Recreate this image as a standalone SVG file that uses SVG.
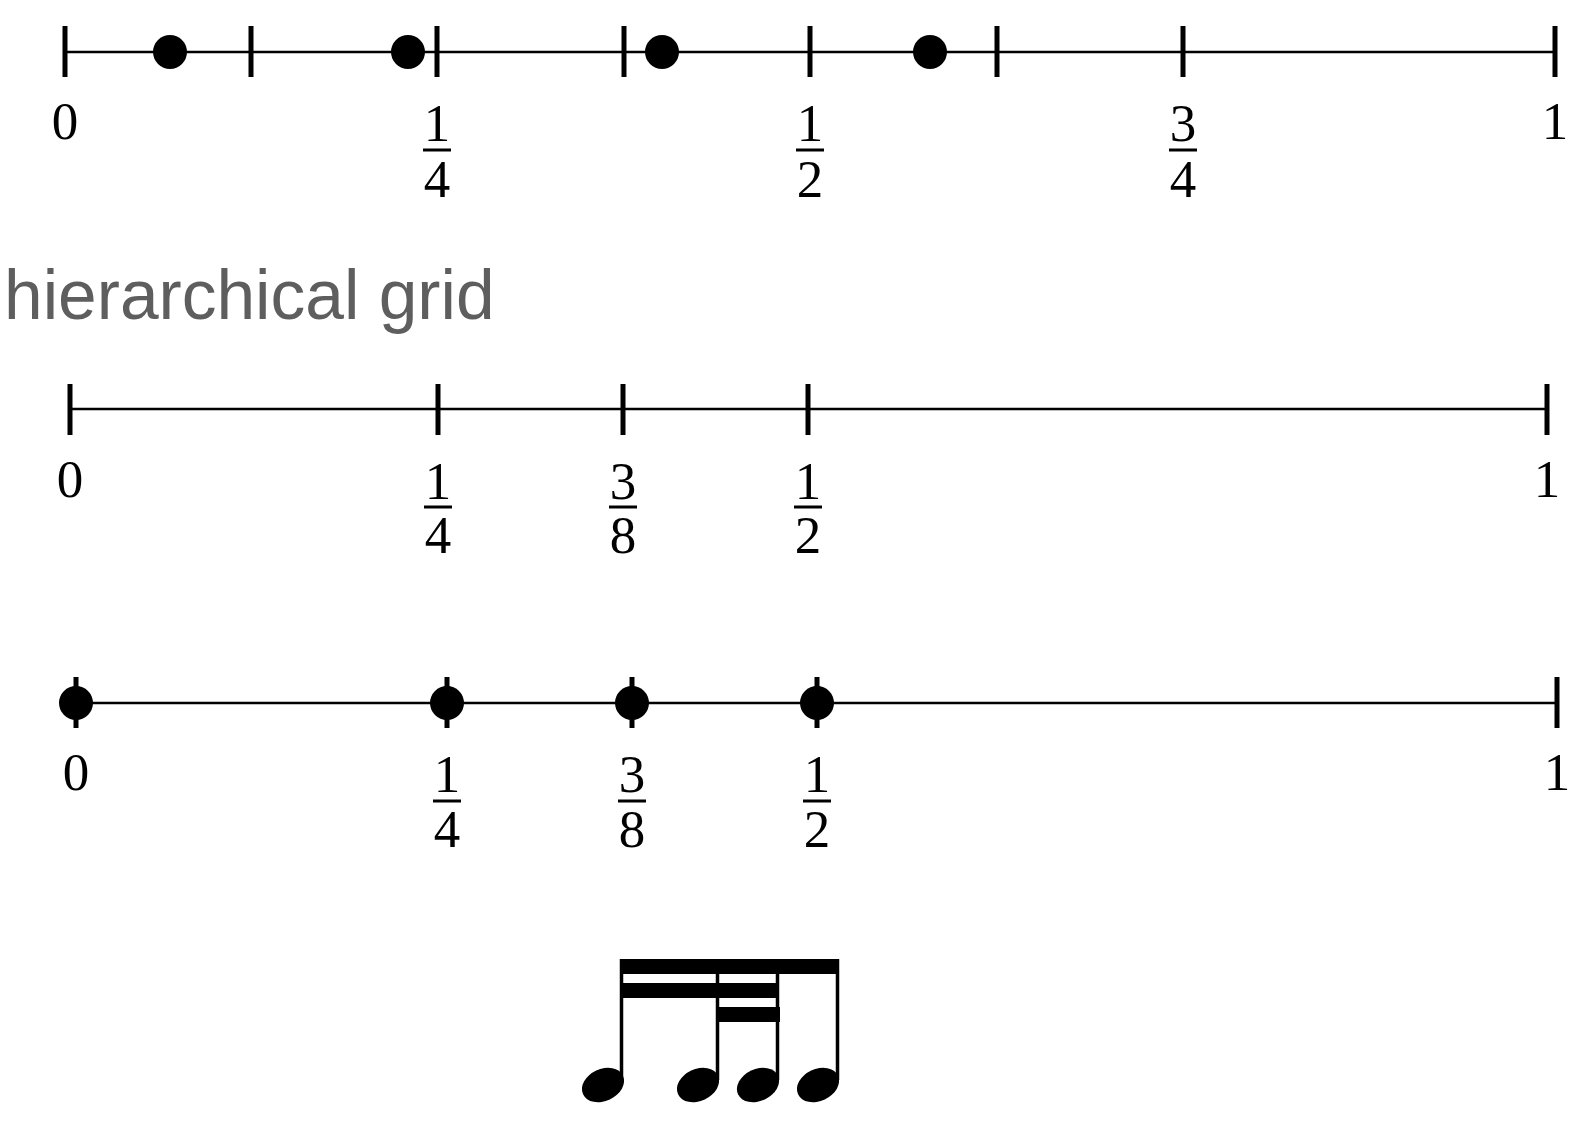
<svg xmlns="http://www.w3.org/2000/svg" width="1588" height="1123" viewBox="0 0 1588 1123">
<style>
.axis{stroke:#000;stroke-width:2.5;fill:none}
.tick{stroke:#000;stroke-width:5;fill:none}
.dot{fill:#000}
.num{font-family:"Liberation Serif","DejaVu Serif",serif;font-size:53px;fill:#000;text-anchor:middle}
.bar{stroke:#000;stroke-width:3}
.title{font-family:"Liberation Sans",Arial,sans-serif;font-size:69.5px;fill:#5e5e5e}
.beam{fill:#000}
.stem{stroke:#000;stroke-width:3.5}
</style>
<rect width="1588" height="1123" fill="#fff"/>

<g id="row1">
  <line class="axis" x1="65" y1="52" x2="1555" y2="52"/>
  <g class="ticks">
    <line class="tick" x1="65" y1="26" x2="65" y2="77"/>
    <line class="tick" x1="251" y1="26" x2="251" y2="77"/>
    <line class="tick" x1="437" y1="26" x2="437" y2="77"/>
    <line class="tick" x1="624" y1="26" x2="624" y2="77"/>
    <line class="tick" x1="810" y1="26" x2="810" y2="77"/>
    <line class="tick" x1="997" y1="26" x2="997" y2="77"/>
    <line class="tick" x1="1183" y1="26" x2="1183" y2="77"/>
    <line class="tick" x1="1555" y1="26" x2="1555" y2="77"/>
  </g>
  <circle class="dot" cx="170" cy="52" r="17"/>
  <circle class="dot" cx="408" cy="52" r="17"/>
  <circle class="dot" cx="662" cy="52" r="17"/>
  <circle class="dot" cx="930" cy="52" r="17"/>
  <text class="num" x="65" y="139">0</text>
  <text class="num" x="437" y="141">1</text>
  <line class="bar" x1="423" y1="150" x2="451" y2="150"/>
  <text class="num" x="437" y="197">4</text>
  <text class="num" x="810" y="141">1</text>
  <line class="bar" x1="796" y1="150" x2="824" y2="150"/>
  <text class="num" x="810" y="197">2</text>
  <text class="num" x="1183" y="141">3</text>
  <line class="bar" x1="1169" y1="150" x2="1197" y2="150"/>
  <text class="num" x="1183" y="197">4</text>
  <text class="num" x="1555" y="139">1</text>
</g>

<g id="title">
  <text class="title" x="4" y="319">hierarchical grid</text>
</g>

<g id="row3">
  <line class="axis" x1="70" y1="409" x2="1547" y2="409"/>
  <line class="tick" x1="70" y1="384" x2="70" y2="435"/>
  <line class="tick" x1="438" y1="384" x2="438" y2="435"/>
  <line class="tick" x1="623" y1="384" x2="623" y2="435"/>
  <line class="tick" x1="808" y1="384" x2="808" y2="435"/>
  <line class="tick" x1="1547" y1="384" x2="1547" y2="435"/>
  <text class="num" x="70" y="497">0</text>
  <text class="num" x="438" y="499">1</text>
  <line class="bar" x1="424" y1="507" x2="452" y2="507"/>
  <text class="num" x="438" y="553">4</text>
  <text class="num" x="623" y="499">3</text>
  <line class="bar" x1="609" y1="507" x2="637" y2="507"/>
  <text class="num" x="623" y="553">8</text>
  <text class="num" x="808" y="499">1</text>
  <line class="bar" x1="794" y1="507" x2="822" y2="507"/>
  <text class="num" x="808" y="553">2</text>
  <text class="num" x="1547" y="497">1</text>
</g>

<g id="row4">
  <line class="axis" x1="76" y1="703" x2="1557" y2="703"/>
  <line class="tick" x1="76" y1="677" x2="76" y2="728"/>
  <line class="tick" x1="447" y1="677" x2="447" y2="728"/>
  <line class="tick" x1="632" y1="677" x2="632" y2="728"/>
  <line class="tick" x1="817" y1="677" x2="817" y2="728"/>
  <line class="tick" x1="1557" y1="677" x2="1557" y2="728"/>
  <circle class="dot" cx="76" cy="703" r="17"/>
  <circle class="dot" cx="447" cy="703" r="17"/>
  <circle class="dot" cx="632" cy="703" r="17"/>
  <circle class="dot" cx="817" cy="703" r="17"/>
  <text class="num" x="76" y="790">0</text>
  <text class="num" x="447" y="792">1</text>
  <line class="bar" x1="433" y1="801" x2="461" y2="801"/>
  <text class="num" x="447" y="847">4</text>
  <text class="num" x="632" y="792">3</text>
  <line class="bar" x1="618" y1="801" x2="646" y2="801"/>
  <text class="num" x="632" y="847">8</text>
  <text class="num" x="817" y="792">1</text>
  <line class="bar" x1="803" y1="801" x2="831" y2="801"/>
  <text class="num" x="817" y="847">2</text>
  <text class="num" x="1557" y="790">1</text>
</g>

<g id="notes">
  <rect class="beam" x="620" y="959" width="219" height="15"/>
  <rect class="beam" x="620" y="983" width="158" height="15"/>
  <rect class="beam" x="717" y="1007" width="63" height="15"/>
  <line class="stem" x1="621.5" y1="959" x2="621.5" y2="1080"/>
  <line class="stem" x1="717.5" y1="959" x2="717.5" y2="1080"/>
  <line class="stem" x1="777.5" y1="959" x2="777.5" y2="1080"/>
  <line class="stem" x1="837.5" y1="959" x2="837.5" y2="1080"/>
  <ellipse class="dot" cx="603" cy="1085" rx="22" ry="16" transform="rotate(-25 603 1085)"/>
  <ellipse class="dot" cx="698" cy="1085" rx="22" ry="16" transform="rotate(-25 698 1085)"/>
  <ellipse class="dot" cx="758" cy="1085" rx="22" ry="16" transform="rotate(-25 758 1085)"/>
  <ellipse class="dot" cx="818" cy="1085" rx="22" ry="16" transform="rotate(-25 818 1085)"/>
</g>
</svg>
